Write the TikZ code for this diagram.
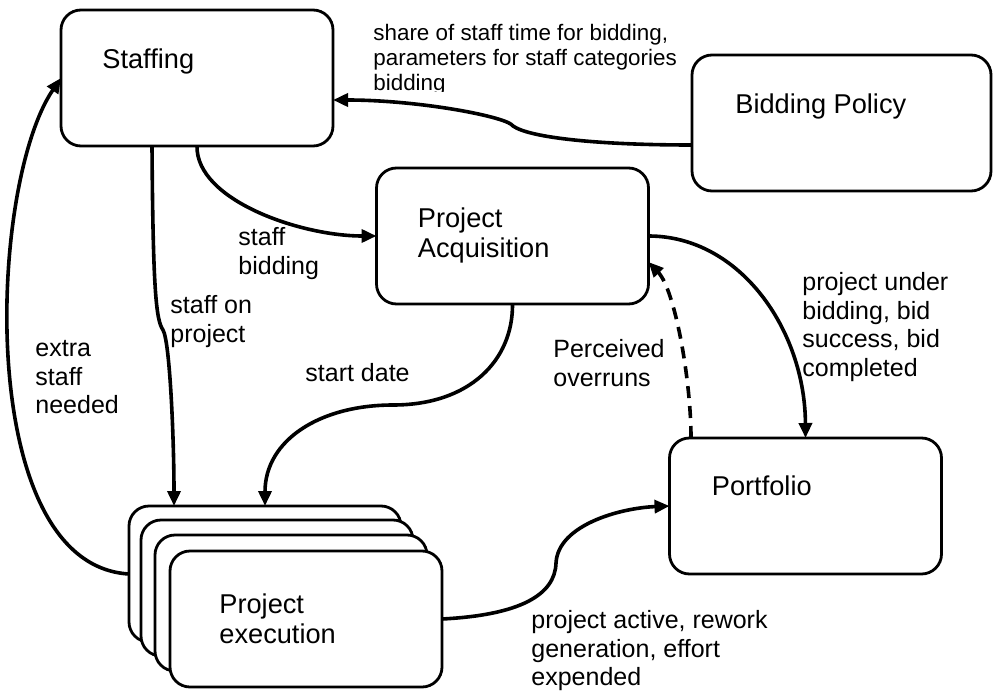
\documentclass[tikz,border=0pt]{standalone}
\usepackage{fontspec}
\setmainfont{Liberation Sans}
\usetikzlibrary{arrows.meta}

\begin{document}
\begin{tikzpicture}[x=0.5pt, y=-0.5pt,
  block/.style={draw, line width=1.4pt, rounded corners=10pt, fill=white,
    minimum width=136pt, minimum height=68pt, inner sep=0pt, outer sep=0pt},
  blocktext/.style={anchor=north west, inner sep=0pt, align=left,
    font=\fontsize{13.6}{15}\selectfont},
  flowtext/.style={anchor=north west, inner sep=0pt, align=left,
    font=\fontsize{12.5}{14.3}\selectfont},
  flow/.style={line width=1.8pt, -{Triangle[length=7.5pt, width=6.5pt]}}]

  \useasboundingbox (0,0) rectangle (994,695);

  \node[block] (staff) at (197, 78) {};
  \node[block, minimum width=149.5pt] (bid) at (841.5, 123) {};
  \node[block] (acq) at (512.5, 236) {};
  \node[block] (port) at (805.5, 506) {};
  \node[block] (exec1) at (265, 574) {};
  \node[block] (exec2) at (277, 588) {};
  \node[block] (exec3) at (291, 603) {};
  \node[block] (exec4) at (306, 619) {};

  \node[blocktext] (staffT) at ([shift={(41,38)}]staff.north west) {Staffing};
  \node[blocktext] (bidT) at ([shift={(43,38)}]bid.north west) {Bidding Policy};
  \node[blocktext] (acqT) at ([shift={(41,39)}]acq.north west) {Project\\Acquisition};
  \node[blocktext] (portT) at ([shift={(42,37)}]port.north west) {Portfolio};
  \node[blocktext] (execT) at ([shift={(49,42)}]exec4.north west) {Project\\execution};

  \draw[flow] ([shift={(0,22)}]bid.west) .. controls (600,145) and (530,138) .. (513,126)
    .. controls (508,117) and (420,100) .. ([shift={(0,22)}]staff.east);
  \draw[flow] (staff.south) .. controls (196,200) and (300,236) .. (acq.west);
  \draw[flow] ([shift={(-45,0)}]staff.south) .. controls (153,290) and (156,320) .. (163,330)
    .. controls (170,342) and (174,440) .. ([shift={(-91,0)}]exec1.north);
  \draw[flow] (exec1.west) .. controls (-26,565) and (-12,185) .. (staff.west);
  \draw[flow] (acq.south) .. controls (513,360) and (470,405) .. (393,405)
    .. controls (320,405) and (265,440) .. (exec1.north);
  \draw[flow] (acq.east) .. controls (740,236) and (805,330) .. (port.north);
  \draw[flow, dash pattern=on 6pt off 4pt] ([shift={(-114.5,0)}]port.north)
    .. controls (691,380) and (675,290) .. ([shift={(0,26)}]acq.east);
  \draw[flow] (exec4.east) .. controls (520,615) and (555,595) .. (556,563)
    .. controls (558,525) and (620,508) .. (port.west);

  \begin{scope}
    \clip (360,0) rectangle (690,92);
    \node[flowtext, font=\fontsize{11.2}{12.6}\selectfont] (shareT) at (373,23.5)
      {share of staff time for bidding,\\parameters for staff categories\\bidding};
  \end{scope}
  \node[flowtext] (staffbidT) at (238,227) {staff\\bidding};
  \node[flowtext] (onT) at (170,295) {staff on\\project};
  \node[flowtext] (extraT) at (35,340) {extra\\staff\\needed};
  \node[flowtext] (startT) at (305,363) {start date};
  \node[flowtext] (overT) at (553,339) {Perceived\\overruns};
  \node[flowtext] (underT) at (802,272) {project under\\bidding, bid\\success, bid\\completed};
  \node[flowtext] (activeT) at (531,610) {project active, rework\\generation, effort\\expended};

\end{tikzpicture}
\end{document}
